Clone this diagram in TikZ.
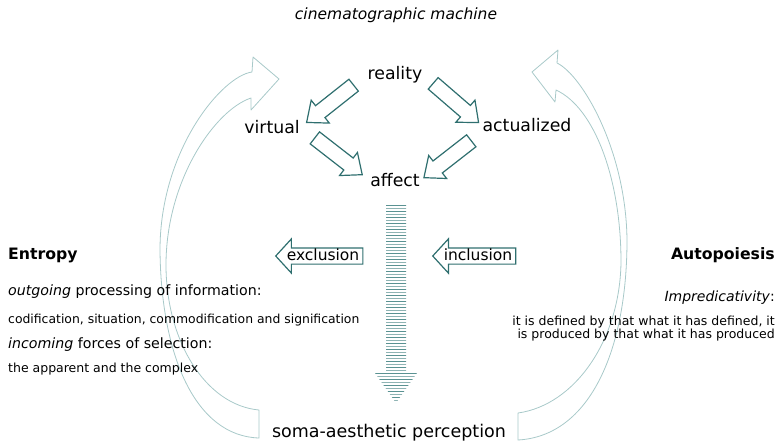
\documentclass[tikz,border=0pt]{standalone}
\usepackage{fontspec}
\setmainfont{DejaVu Sans}
\usetikzlibrary{shapes.arrows}

\definecolor{tealline}{HTML}{2F6F6F}
\definecolor{paleteal}{HTML}{A8C9C9}
\definecolor{stripedark}{HTML}{5A9292}
\definecolor{stripelight}{HTML}{8FB4B4}

\tikzset{
  word/.style={inner sep=1pt, font=\fontsize{17.3}{19}\selectfont},
  blockarrow/.style={single arrow, draw=tealline, line width=1.2pt, fill=white,
    inner xsep=0pt, inner ysep=7pt, single arrow head extend=7pt,
    single arrow tip angle=80, minimum height=60pt, sloped, allow upside down},
  textarrow/.style={single arrow, shape border rotate=180, draw=tealline, line width=1.2pt,
    inner xsep=3pt, inner ysep=0pt, text height=11.5pt, text depth=3.5pt,
    single arrow head extend=9pt, single arrow tip angle=95,
    font=\fontsize{15.5}{17}\selectfont},
  bigarrow/.style={draw=paleteal, line width=0.8pt, line join=round},
  stripe/.style={line width=1pt},
  note/.style={inner sep=0pt},
}

\begin{document}
\begin{tikzpicture}[x=1pt, y=-1pt]
\useasboundingbox (0,0) rectangle (782,445);

% big curved arrows
\draw[bigarrow] (259,410) .. controls (205,405) and (166,340) .. (166,265)
  .. controls (166,180) and (215,110) .. (251,98) -- (251,110) -- (279,79) -- (253,57) -- (252,72)
  .. controls (222,76) and (160,150) .. (160,250)
  .. controls (161,355) and (195,436) .. (259,438) -- cycle;
\draw[bigarrow] (518,413) .. controls (575,405) and (620,340) .. (621,262)
  .. controls (621,180) and (595,108) .. (556,90) -- (555,102) -- (532,72) -- (558,50) -- (557,63)
  .. controls (582,75) and (626,150) .. (627,240)
  .. controls (627,350) and (590,436) .. (518,440) -- cycle;

% title
\node[word, font=\fontsize{15.5}{17}\selectfont\itshape] (title) at (396,15) {cinematographic machine};

% the four terms
\node[word] (reality) at (395,75) {reality};
\node[word] (virtual) at (272,127) {virtual};
\node[word] (actualized) at (527,125) {actualized};
\node[word] (affect) at (395,180) {affect};

\path (reality.west) -- node[blockarrow] (rv) {} (virtual.east);
\path (reality.east) -- node[blockarrow] (ra) {} (actualized.west);
\path (virtual.east) -- node[blockarrow] (vf) {} (affect.west);
\path (actualized.south west) -- node[blockarrow] (af) {} (affect.east);

% striped arrow
\coordinate (stripetop) at (396,205);
\coordinate (stripetip) at (396,403);
\begin{scope}
  \clip (386,205) -- (406,205) -- (406,373) -- (417,373) -- (stripetip) -- (375,373) -- (386,373) -- cycle;
  \foreach \y [count=\i] in {205.5,208.5,...,404} {
    \ifodd\i \draw[stripe, stripedark] (370,\y) -- (420,\y);
    \else \draw[stripe, stripelight] (370,\y) -- (420,\y); \fi
  }
\end{scope}

% exclusion / inclusion
\node[textarrow] (exclusion) at (323,256) {exclusion};
\node[textarrow] (inclusion) at (478,256) {inclusion};

\node[word, font=\fontsize{17.5}{19}\selectfont] (perception) at (389,433) {soma-aesthetic perception};

% left side
\node[note, anchor=west, font=\fontsize{15.7}{17}\selectfont\bfseries] (entropy) at (8,255) {Entropy};
\node[note, anchor=west, font=\fontsize{14.2}{16}\selectfont] (outgoing) at (8,292) {\textit{outgoing} processing of information:};
\node[note, anchor=west, font=\fontsize{12.4}{14}\selectfont] (codif) at (8,320) {codification, situation, commodification and signification};
\node[note, anchor=west, font=\fontsize{14.2}{16}\selectfont] (incoming) at (8,345) {\textit{incoming} forces of selection:};
\node[note, anchor=west, font=\fontsize{12.5}{14}\selectfont] (apparent) at (8,369) {the apparent and the complex};

% right side
\node[note, anchor=east, font=\fontsize{15.7}{17}\selectfont\bfseries] (autopoiesis) at (775,255) {Autopoiesis};
\node[note, anchor=east, font=\fontsize{14}{16}\selectfont] (impred) at (775,298) {\textit{Impredicativity}:};
\node[note, anchor=east, align=right, font=\fontsize{12.5}{11}\selectfont] (defined) at (775,328.5)
  {it is defined by that what it has defined, it\\is produced by that what it has produced};
\end{tikzpicture}
\end{document}
